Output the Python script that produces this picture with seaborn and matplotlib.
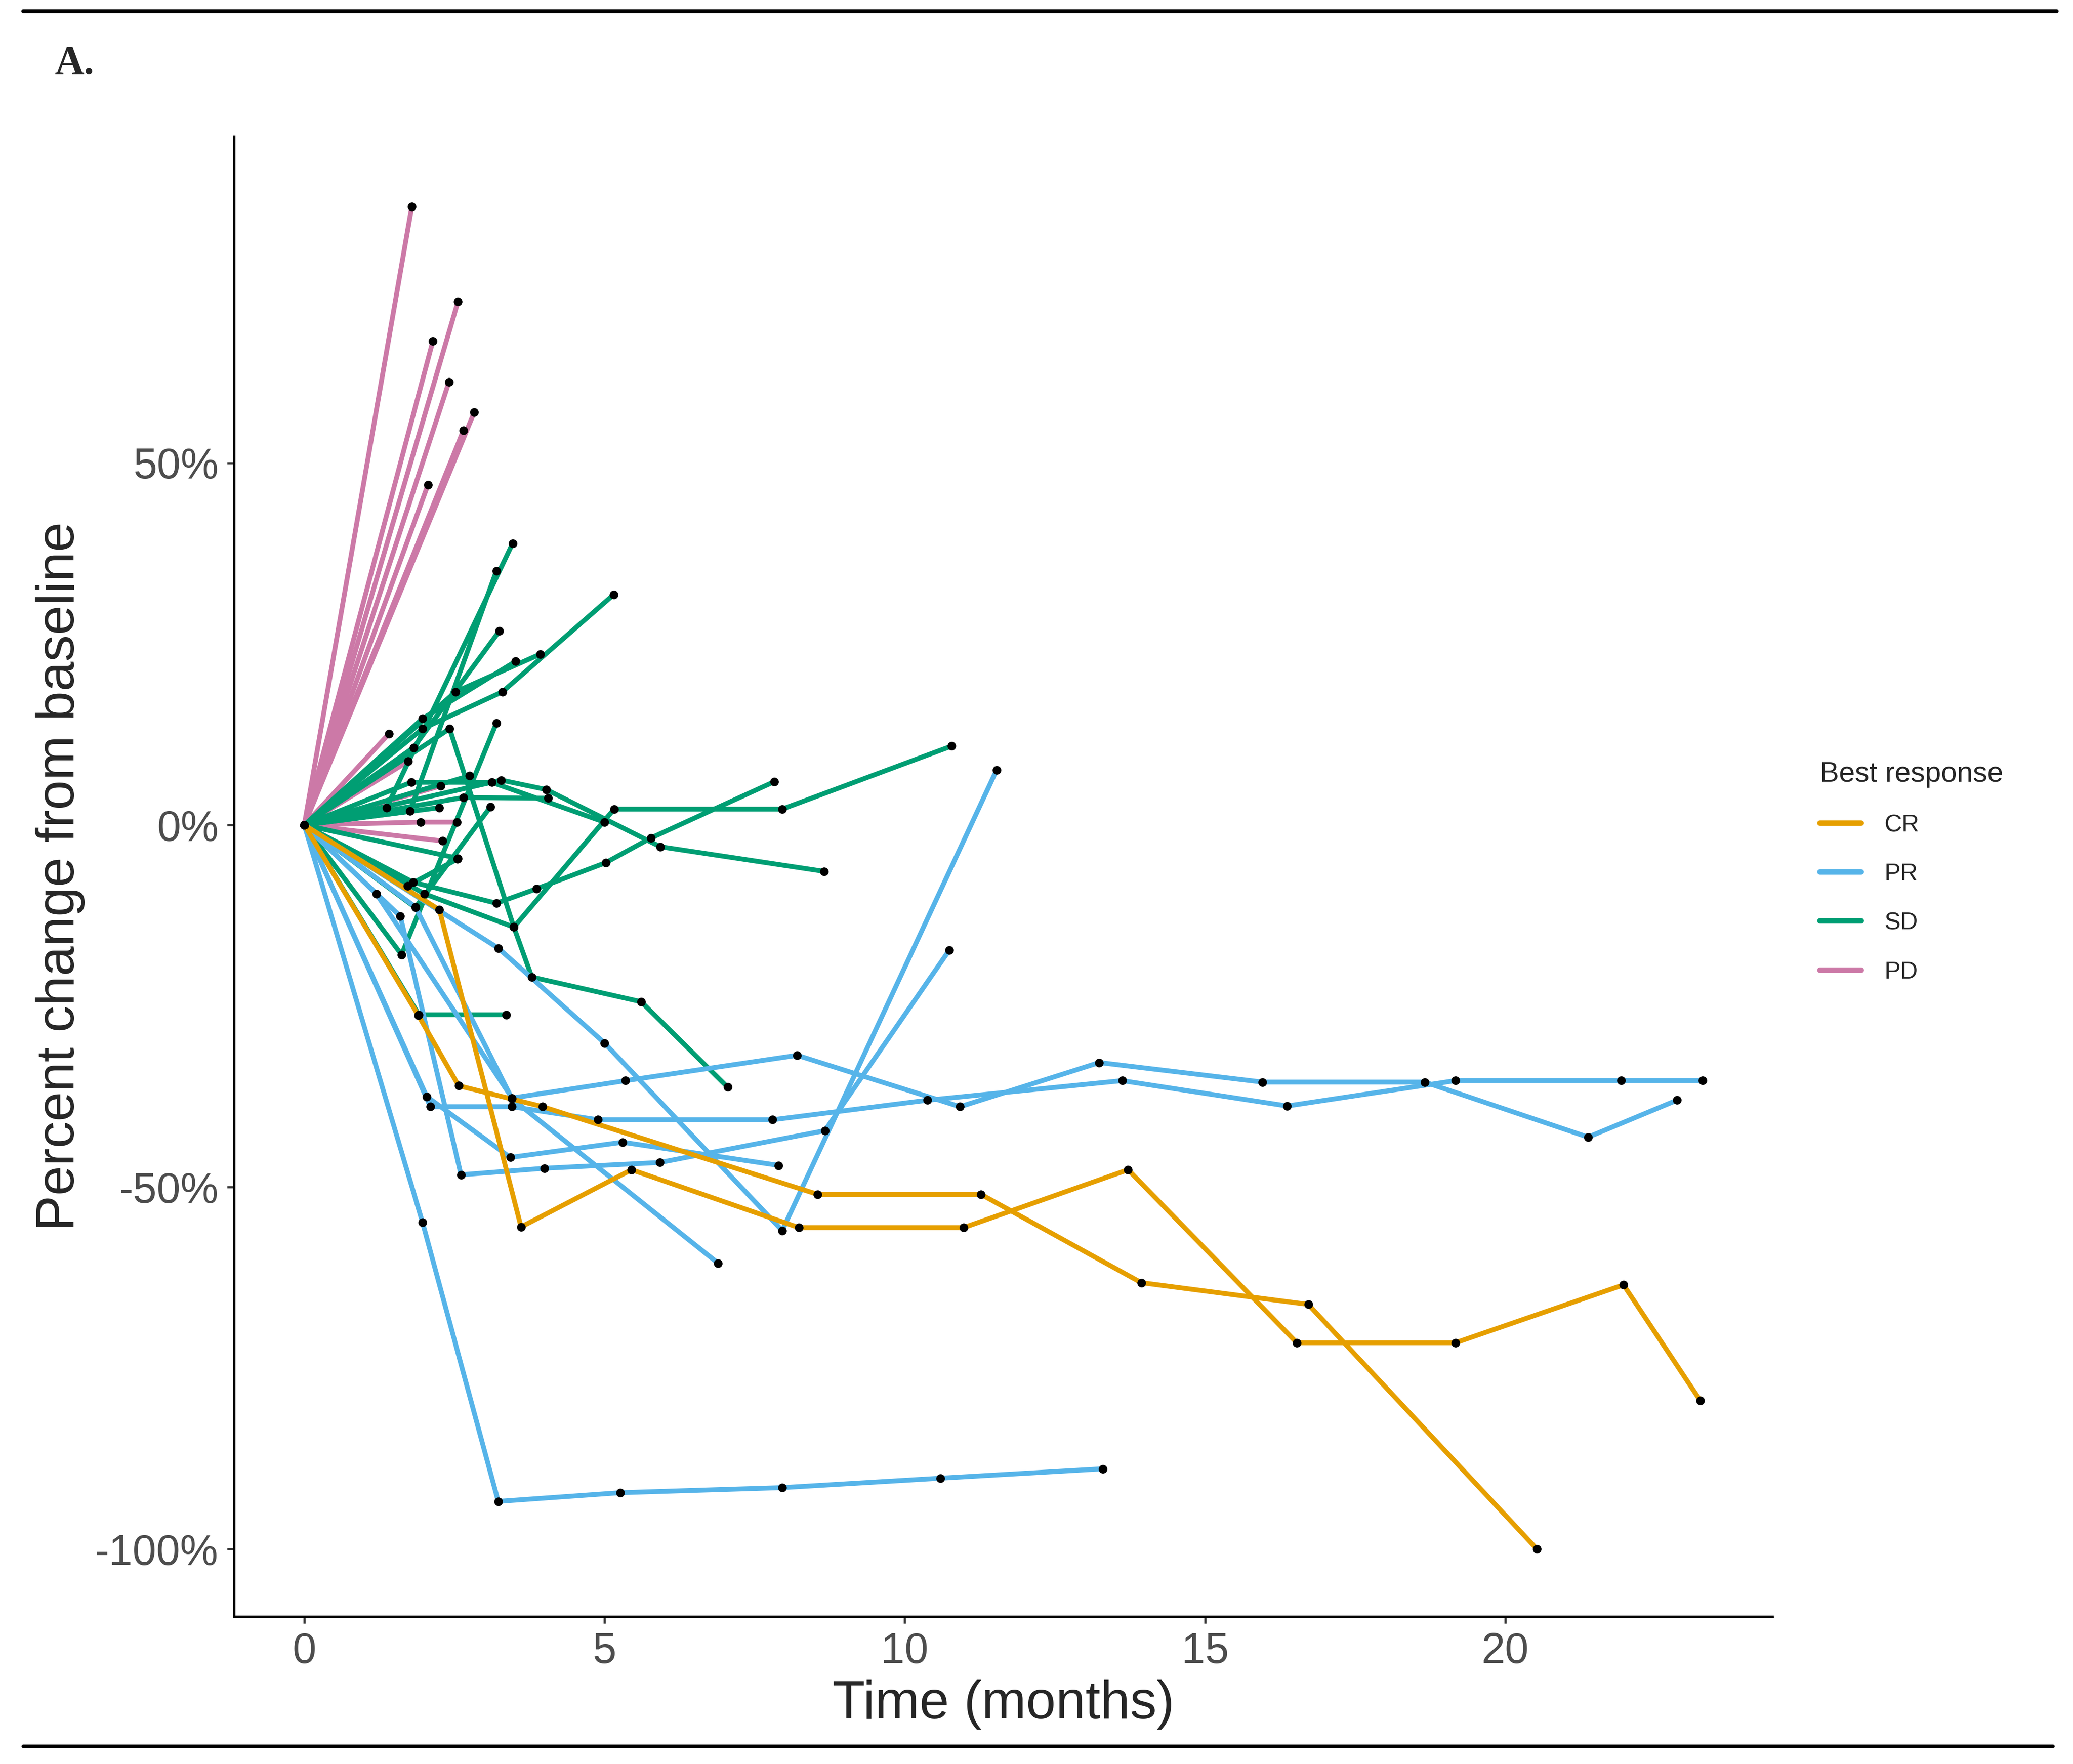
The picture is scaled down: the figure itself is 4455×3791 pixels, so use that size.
import pandas as pd
import matplotlib.pyplot as plt
import seaborn as sns
from matplotlib.lines import Line2D

# per-patient trajectories (months, % change from baseline)
cr_times = [
    [0, 1.90, 2.57, 3.97, 8.55, 11.27, 13.94, 16.72, 20.53],
    [0, 2.25, 3.61, 5.45, 8.24, 10.98, 13.72, 16.53, 19.17, 21.97, 23.25],
]
cr_changes = [
    [0, -26.3, -36.0, -38.9, -51.0, -51.0, -63.2, -66.2, -100.0],
    [0, -11.7, -55.5, -47.6, -55.6, -55.6, -47.6, -71.5, -71.5, -63.5, -79.5],
]

pr_times = [
    [0, 1.97, 3.23, 5.26, 7.96, 10.59, 13.30],
    [0, 2.10, 3.46, 4.89, 7.80, 10.38, 13.62, 16.37, 19.17, 21.93, 23.29],
    [0, 1.20, 3.46, 5.35, 8.21, 10.92, 13.24, 15.96, 18.66, 21.38, 22.86],
    [0, 3.23, 5.00, 7.96, 11.53],
    [0, 1.60, 2.61, 4.00, 5.92, 8.67, 10.74],
    [0, 2.04, 3.43, 5.30, 7.90],
    [0, 1.85, 3.46, 6.89],
]
pr_changes = [
    [0, -54.9, -93.4, -92.2, -91.5, -90.2, -88.9],
    [0, -38.9, -38.9, -40.7, -40.7, -38.0, -35.3, -38.8, -35.3, -35.3, -35.3],
    [0, -9.5, -37.7, -35.3, -31.8, -38.9, -32.8, -35.5, -35.5, -43.1, -38.0],
    [0, -17.0, -30.1, -56.0, 7.6],
    [0, -12.6, -48.3, -47.4, -46.6, -42.2, -17.3],
    [0, -37.5, -45.9, -43.8, -47.0],
    [0, -11.3, -37.8, -60.5],
]

sd_times = [
    [0, 1.37, 3.47],
    [0, 1.76, 3.20],
    [0, 1.97, 3.30, 5.15],
    [0, 2.52, 3.93],
    [0, 1.82, 3.25],
    [0, 1.97, 3.52],
    [0, 1.62, 3.20],
    [0, 2.42, 3.49, 3.79, 5.61, 7.05],
    [0, 1.91, 3.36],
    [0, 1.81, 3.20, 3.87, 5.02, 5.77, 7.83],
    [0, 3.28, 4.03, 5.93, 8.66],
    [0, 1.78, 3.12, 5.00],
    [0, 2.00, 3.49, 5.16, 7.96, 10.78],
    [0, 2.65, 4.06],
    [0, 1.85, 3.10],
    [0, 2.56],
    [0, 2.75],
    [0, 2.25],
    [0, 1.72, 2.55],
]
sd_changes = [
    [0, 2.4, 38.9],
    [0, 1.9, 35.1],
    [0, 13.3, 18.4, 31.8],
    [0, 18.4, 23.6],
    [0, 10.7, 26.8],
    [0, 14.7, 22.6],
    [0, -17.9, 14.1],
    [0, 13.3, -14.1, -21.0, -24.4, -36.2],
    [0, -26.2, -26.2],
    [0, -7.9, -10.8, -8.8, -5.2, -1.8, 6.0],
    [0, 6.2, 4.9, -3.0, -6.4],
    [0, 5.9, 5.9, 0.4],
    [0, -9.5, -14.1, 2.2, 2.2, 10.9],
    [0, 3.8, 3.7],
    [0, -11.4, 2.5],
    [0, -4.6],
    [0, 6.8],
    [0, 2.4],
    [0, -8.4, -4.7],
]

pd_times = [
    [0, 1.79], [0, 2.56], [0, 2.14], [0, 2.41], [0, 2.83], [0, 2.65], [0, 2.06],
    [0, 1.41], [0, 1.94, 2.54], [0, 2.30], [0, 1.73], [0, 2.27],
]
pd_changes = [
    [0, 85.4], [0, 72.3], [0, 66.8], [0, 61.2], [0, 57.0], [0, 54.5], [0, 47.0],
    [0, 12.6], [0, 0.4, 0.4], [0, -2.2], [0, 8.8], [0, 5.4],
]

responses = ["CR", "PR", "SD", "PD"]
colors = {"CR": "#E69F00", "PR": "#56B4E9", "SD": "#009E73", "PD": "#CC79A7"}
x_ticks = [0, 5, 10, 15, 20]
y_ticks = [-100, -50, 0, 50]
y_tick_labels = ["-100%", "-50%", "0%", "50%"]

groups = {
    "CR": (cr_times, cr_changes),
    "PR": (pr_times, pr_changes),
    "SD": (sd_times, sd_changes),
    "PD": (pd_times, pd_changes),
}
rows = []
for resp, (times, changes) in groups.items():
    for i, (t, c) in enumerate(zip(times, changes)):
        for tt, cc in zip(t, c):
            rows.append({"patient": f"{resp}{i}", "response": resp, "time": tt, "change": cc})
df = pd.DataFrame(rows)

sns.set_style("ticks")
plt.rcParams["font.family"] = ["Liberation Sans", "DejaVu Sans"]

fig = plt.figure(figsize=(4455 / 300, 3791 / 300), dpi=300)
ax = fig.add_axes([0.1129, 0.0836, 0.855 - 0.1129, 0.9227 - 0.0836])

sns.lineplot(
    data=df, x="time", y="change", hue="response", units="patient",
    estimator=None, hue_order=["PD", "SD", "PR", "CR"], palette=colors,
    linewidth=2.5, sort=False, legend=False, ax=ax,
)
sns.scatterplot(
    data=df, x="time", y="change", color="black", s=20, linewidth=0,
    legend=False, ax=ax, zorder=5,
)

ax.set_xlim(-1.17, 24.45)
ax.set_ylim(-109.3, 95.1)
ax.set_xticks(x_ticks)
ax.set_yticks(y_ticks)
ax.set_yticklabels(y_tick_labels)
sns.despine(ax=ax)
for side in ["left", "bottom"]:
    ax.spines[side].set_linewidth(1.2)
    ax.spines[side].set_color("black")
ax.tick_params(length=3.5, width=1.1, color="#333333", labelcolor="#4D4D4D",
               labelsize=22, pad=4.5)
ax.set_xlabel("Time (months)", fontsize=27.5, labelpad=4)
ax.set_ylabel("Percent change from baseline", fontsize=27.5, labelpad=5)

handles = [Line2D([], [], color=colors[r], lw=2.8) for r in responses]
leg = ax.legend(
    handles, responses, title="Best response", loc="upper left",
    bbox_to_anchor=(0.878, 0.5685), bbox_transform=fig.transFigure,
    frameon=False, fontsize=12.5, title_fontsize=14.8, handlelength=1.7,
    handletextpad=0.95, labelspacing=1.08, borderpad=0, borderaxespad=0,
    alignment="left",
)

# panel letter and horizontal rules of the source figure
fig.text(0.0263, 0.958, "A.", fontsize=21, fontweight="bold",
         family=["Liberation Serif", "DejaVu Serif"], ha="left", va="baseline")
fig.add_artist(Line2D([50 / 4455, 4420 / 4455], [1 - 24 / 3791] * 2,
                      transform=fig.transFigure, color="black", lw=2))
fig.add_artist(Line2D([50 / 4455, 4412 / 4455], [1 - 3753 / 3791] * 2,
                      transform=fig.transFigure, color="black", lw=1.8))

plt.savefig("out.png", dpi=300)
plt.close()
